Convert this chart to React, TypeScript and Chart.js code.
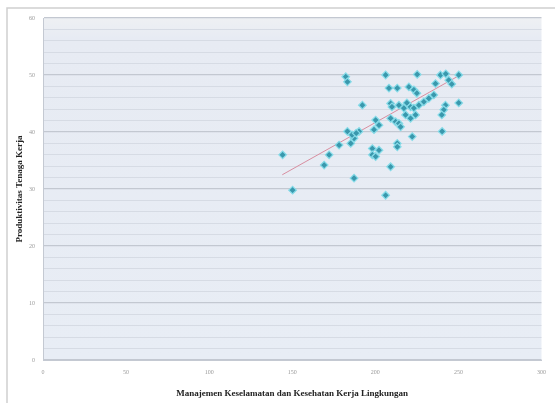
import React, { useEffect, useRef } from "react";
import { Chart, registerables } from "chart.js";

Chart.register(...registerables);

const pointsX = [
  182.2, 183.2, 206.2, 225.2, 239.2, 242.4, 244.2, 246.0, 250.2, 208.2,
  213.2, 220.2, 223.2, 225.0, 236.2, 235.2, 232.2, 229.2, 192.2, 209.2,
  210.0, 214.2, 217.2, 219.0, 221.2, 223.2, 226.2, 242.2, 241.2, 240.0,
  250.2, 200.2, 209.2, 212.2, 218.2, 221.2, 224.2, 202.2, 199.2, 214.2,
  215.2, 183.2, 190.2, 187.2, 185.2, 178.2, 172.2, 198.2, 202.2, 198.2,
  200.2, 213.2, 213.2, 222.2, 240.2, 209.2, 144.2, 150.2, 169.2, 187.2,
  206.2, 186.0, 188.5,
];
const pointsY = [
  49.7, 48.8, 50.0, 50.1, 50.0, 50.2, 49.1, 48.4, 50.0, 47.7,
  47.7, 47.9, 47.4, 46.8, 48.5, 46.5, 45.9, 45.3, 44.7, 45.0,
  44.4, 44.7, 44.2, 45.1, 44.4, 44.2, 44.7, 44.7, 43.9, 43.0,
  45.1, 42.1, 42.4, 41.8, 43.0, 42.4, 43.0, 41.2, 40.4, 41.5,
  40.9, 40.1, 40.1, 38.9, 38.0, 37.7, 36.0, 37.1, 36.8, 36.0,
  35.7, 38.0, 37.4, 39.2, 40.1, 33.9, 36.0, 29.8, 34.2, 31.9,
  28.9, 39.5, 39.8,
];
const trendX = [144, 251];
const trendY = [32.5, 50.0];

const xTickValues = [0, 50, 100, 150, 200, 250, 300];
const yTickValues = [0, 10, 20, 30, 40, 50, 60];

const xTitle = "Manajemen Keselamatan dan Kesehatan Kerja Lingkungan";
const yTitle = "Produktivitas Tenaga Kerja";

export default function App() {
  const ref = useRef<HTMLCanvasElement>(null);

  useEffect(() => {
    document.body.style.margin = "0";
    const canvas = ref.current;
    if (!canvas) return;

    const framePlugin = {
      id: "frame",
      beforeDraw(chart: any) {
        const { ctx, chartArea } = chart;
        ctx.save();
        ctx.fillStyle = "#ffffff";
        ctx.fillRect(0, 0, chart.width, chart.height);
        ctx.strokeStyle = "#d0d0d0";
        ctx.lineWidth = 1.5;
        ctx.beginPath();
        ctx.moveTo(7, chart.height);
        ctx.lineTo(7, 8);
        ctx.lineTo(chart.width, 8);
        ctx.stroke();
        const g = ctx.createLinearGradient(0, chartArea.top, 0, chartArea.bottom);
        g.addColorStop(0, "#eef0f3");
        g.addColorStop(0.06, "#e7ebf3");
        g.addColorStop(1, "#e8edf5");
        ctx.fillStyle = g;
        ctx.fillRect(
          chartArea.left,
          chartArea.top,
          chartArea.right - chartArea.left,
          chartArea.bottom - chartArea.top
        );
        ctx.restore();
      },
    };

    const chart = new Chart(canvas, {
      type: "scatter",
      data: {
        datasets: [
          {
            type: "line",
            data: trendX.map((x, i) => ({ x, y: trendY[i] })),
            borderColor: "#d88ea0",
            borderWidth: 1,
            pointRadius: 0,
            fill: false,
            order: 2,
          } as any,
          {
            data: pointsX.map((x, i) => ({ x, y: pointsY[i] })),
            pointStyle: "rectRot",
            pointRadius: 3.8,
            backgroundColor: "#3a98ad",
            borderColor: "#86dbe8",
            borderWidth: 1.2,
            order: 1,
          },
        ],
      },
      options: {
        animation: false,
        responsive: false,
        maintainAspectRatio: false,
        layout: { padding: { left: 0, top: 18, right: 11, bottom: 0 } },
        plugins: {
          legend: { display: false },
          tooltip: { enabled: false },
        },
        scales: {
          x: {
            type: "linear",
            min: 0,
            max: 300,
            afterFit(scale: any) {
              scale.height = 43;
            },
            afterBuildTicks(scale: any) {
              scale.ticks = xTickValues.map((v) => ({ value: v }));
            },
            grid: { display: false, drawTicks: false },
            border: { display: true, color: "#c4c9d2", width: 1 },
            ticks: {
              color: "#9a9a9a",
              font: { size: 6, family: "Liberation Serif" },
              padding: 9,
              maxRotation: 0,
              autoSkip: false,
            },
            title: {
              display: true,
              text: xTitle,
              color: "#222222",
              font: { size: 9, weight: "bold", family: "Liberation Serif" },
              padding: { top: 8, bottom: 4 },
            },
          },
          y: {
            type: "linear",
            min: 0,
            max: 60,
            afterFit(scale: any) {
              scale.width = 43;
            },
            afterBuildTicks(scale: any) {
              const t = [];
              for (let v = 0; v <= 60; v += 2) t.push({ value: v });
              scale.ticks = t;
            },
            grid: {
              drawTicks: false,
              color: (c: any) =>
                yTickValues.includes(c.tick.value) ? "#c3c8d1" : "#d6dbe4",
              lineWidth: (c: any) => (yTickValues.includes(c.tick.value) ? 1.2 : 1),
            },
            border: { display: true, color: "#c4c9d2", width: 1 },
            ticks: {
              color: "#9a9a9a",
              font: { size: 6, family: "Liberation Serif" },
              padding: 8,
              autoSkip: false,
              callback: (v: any) => (yTickValues.includes(Number(v)) ? String(v) : ""),
            },
            title: {
              display: true,
              text: yTitle,
              color: "#222222",
              font: { size: 9, weight: "bold", family: "Liberation Serif" },
              padding: { top: 14, bottom: 0 },
            },
          },
        },
      },
      plugins: [framePlugin],
    } as any);

    return () => chart.destroy();
  }, []);

  return (
    <div style={{ width: 555, height: 403, position: "relative" }}>
      <canvas ref={ref} width={555} height={403} style={{ display: "block" }} />
    </div>
  );
}
